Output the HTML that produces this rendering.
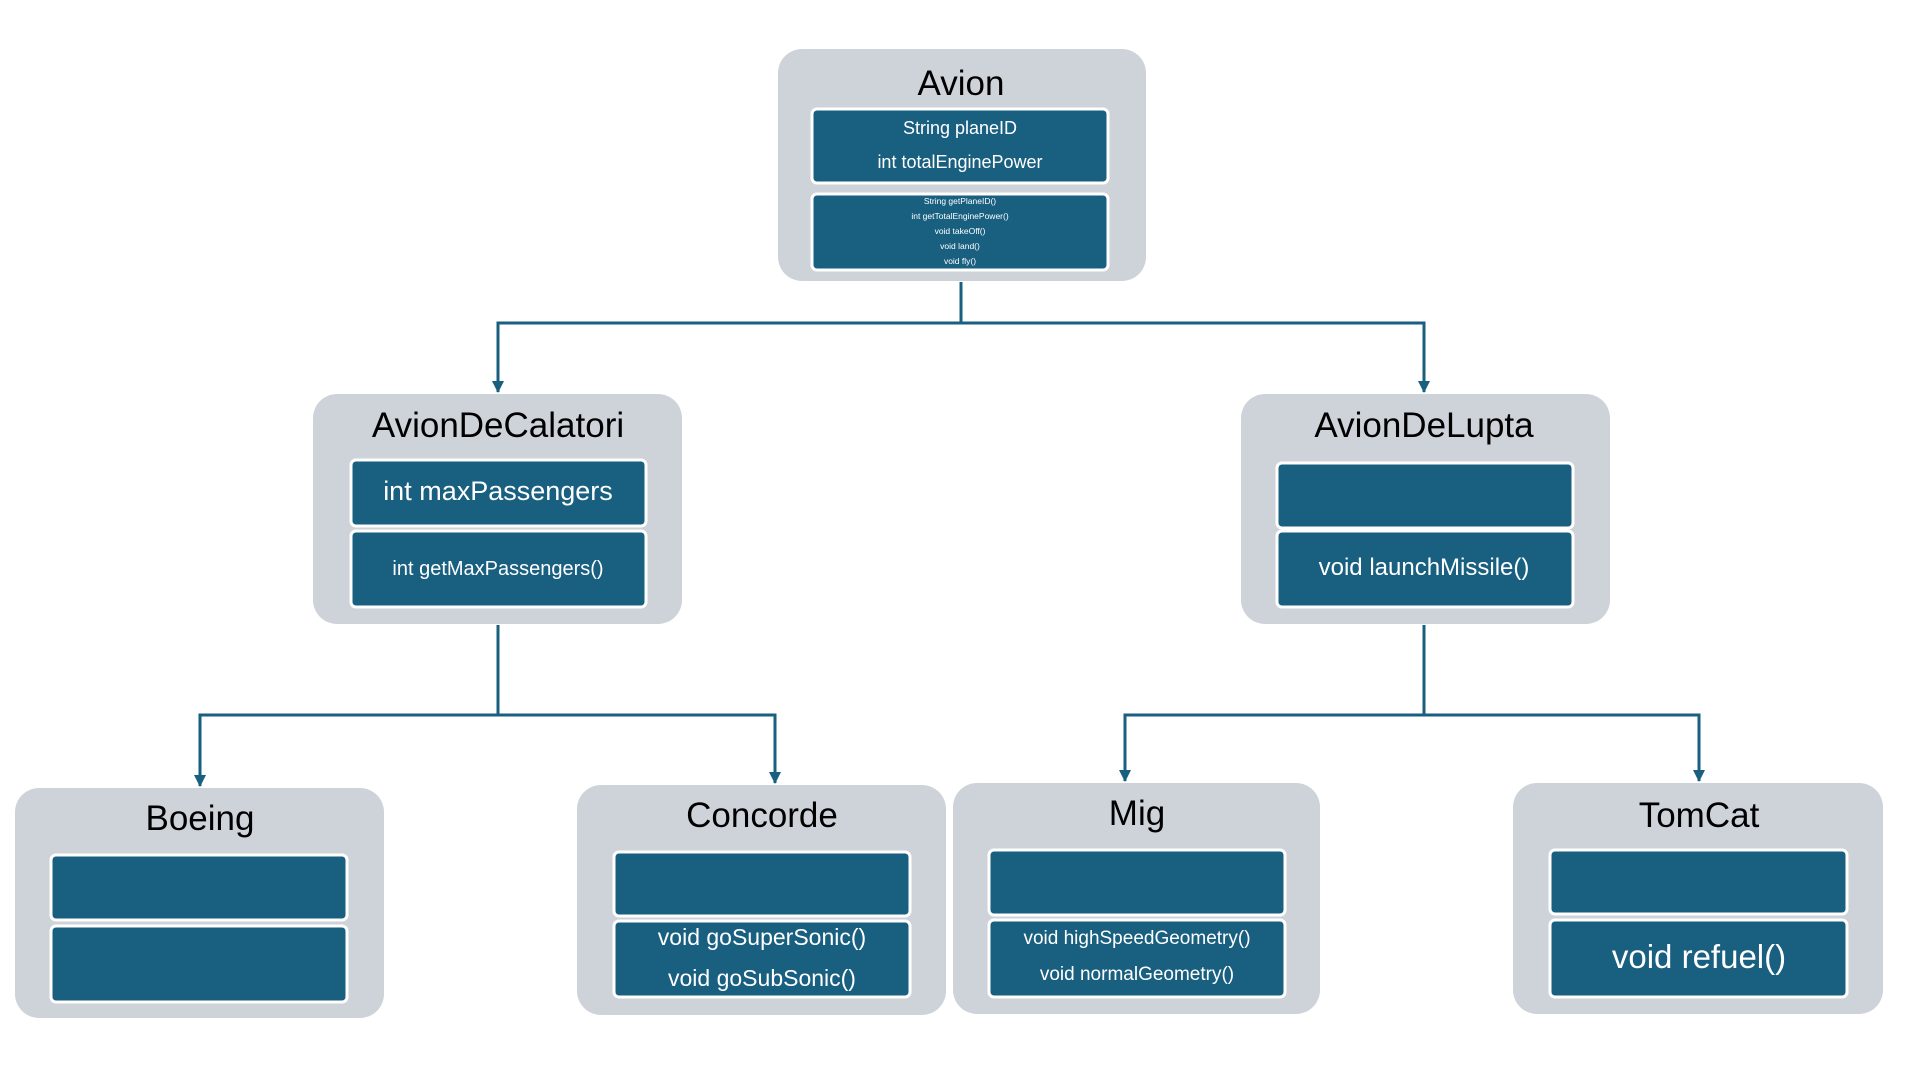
<!DOCTYPE html>
<html><head><meta charset="utf-8"><style>
html,body{margin:0;padding:0;background:#fff;width:1920px;height:1080px;overflow:hidden}
svg text{font-family:"Liberation Sans",sans-serif}
</style></head><body>
<svg width="1920" height="1080" viewBox="0 0 1920 1080" xmlns="http://www.w3.org/2000/svg">
<defs><marker id="a" markerWidth="12" markerHeight="12" refX="11" refY="6" orient="auto" markerUnits="userSpaceOnUse"><path d="M0,0 L12,6 L0,12 Z" fill="#185F80"/></marker></defs>
<g stroke="#185F80" stroke-width="3" fill="none">
<path d="M961,282 V323 H498 V392" marker-end="url(#a)"/>
<path d="M961,323 H1424 V392" marker-end="url(#a)"/>
<path d="M498,625 V715 H200 V786" marker-end="url(#a)"/>
<path d="M498,715 H775 V783" marker-end="url(#a)"/>
<path d="M1424,625 V715 H1125 V781" marker-end="url(#a)"/>
<path d="M1424,715 H1699 V781" marker-end="url(#a)"/>
</g>
<g fill="#CED3DA">
<rect x="778" y="49" width="368" height="232" rx="24"/>
<rect x="313" y="394" width="369" height="230" rx="24"/>
<rect x="1241" y="394" width="369" height="230" rx="24"/>
<rect x="15" y="788" width="369" height="230" rx="24"/>
<rect x="577" y="785" width="369" height="230" rx="24"/>
<rect x="953" y="783" width="367" height="231" rx="24"/>
<rect x="1513" y="783" width="370" height="231" rx="24"/>
</g>
<g fill="#185F80" stroke="#fff" stroke-width="3">
<rect x="812" y="109" width="296" height="74" rx="5"/>
<rect x="812" y="194" width="296" height="76" rx="5"/>
<rect x="351" y="460" width="295" height="66" rx="5"/>
<rect x="351" y="531" width="295" height="76" rx="5"/>
<rect x="1277" y="463" width="296" height="65" rx="5"/>
<rect x="1277" y="531" width="296" height="76" rx="5"/>
<rect x="51" y="855" width="296" height="65" rx="5"/>
<rect x="51" y="926" width="296" height="76" rx="5"/>
<rect x="614" y="852" width="296" height="64" rx="5"/>
<rect x="614" y="921" width="296" height="76" rx="5"/>
<rect x="989" y="850" width="296" height="65" rx="5"/>
<rect x="989" y="920" width="296" height="77" rx="5"/>
<rect x="1550" y="850" width="297" height="64" rx="5"/>
<rect x="1550" y="920" width="297" height="77" rx="5"/>
</g>
<g text-anchor="middle" fill="#000" font-size="35">
<text x="961" y="95">Avion</text>
<text x="498" y="437">AvionDeCalatori</text>
<text x="1424" y="437">AvionDeLupta</text>
<text x="200" y="830">Boeing</text>
<text x="762" y="827">Concorde</text>
<text x="1137" y="825">Mig</text>
<text x="1699" y="827">TomCat</text>
</g>
<g text-anchor="middle" fill="#fff">
<text x="960" y="134" font-size="18">String planeID</text>
<text x="960" y="168" font-size="18">int totalEnginePower</text>
<g font-size="8.5"><text x="960" y="204">String getPlaneID()</text><text x="960" y="219">int getTotalEnginePower()</text><text x="960" y="234">void takeOff()</text><text x="960" y="249">void land()</text><text x="960" y="264">void fly()</text></g>
<text x="498" y="500" font-size="27">int maxPassengers</text>
<text x="498" y="575" font-size="20">int getMaxPassengers()</text>
<text x="1424" y="575" font-size="24">void launchMissile()</text>
<text x="762" y="945" font-size="23">void goSuperSonic()</text>
<text x="762" y="986" font-size="23">void goSubSonic()</text>
<text x="1137" y="944" font-size="19">void highSpeedGeometry()</text>
<text x="1137" y="980" font-size="19">void normalGeometry()</text>
<text x="1699" y="968" font-size="33">void refuel()</text>
</g>
</svg>
</body></html>
